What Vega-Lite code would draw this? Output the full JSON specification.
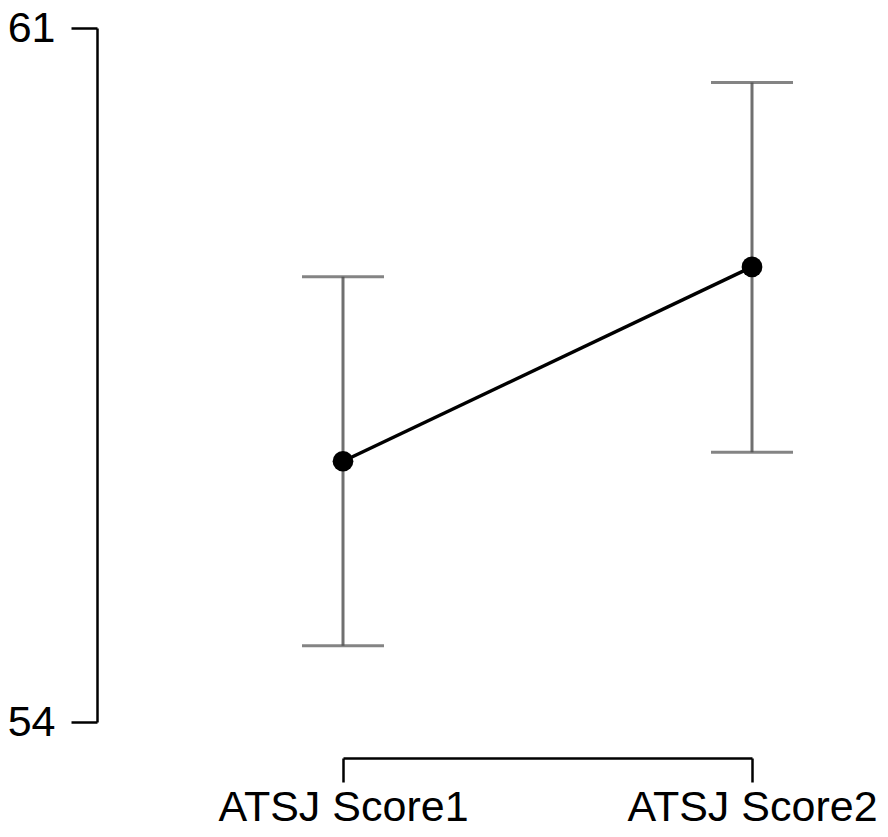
{
  "$schema": "https://vega.github.io/schema/vega-lite/v6.json",
  "width": 409,
  "height": 694,
  "autosize": {"type": "none"},
  "padding": {"left": 343, "top": 28, "right": 136, "bottom": 115},
  "background": "white",
  "config": {
    "view": {"stroke": null},
    "font": "Liberation Sans",
    "axis": {
      "grid": false,
      "domainColor": "black",
      "domainWidth": 2.5,
      "tickColor": "black",
      "tickWidth": 2.5,
      "labelColor": "black",
      "labelFont": "Liberation Sans",
      "labelFontSize": 43,
      "labelLimit": 0,
      "title": null
    }
  },
  "data": {
    "values": [
      {"score": "ATSJ Score1", "mean": 56.63, "lower": 54.77, "upper": 58.49},
      {"score": "ATSJ Score2", "mean": 58.59, "lower": 56.72, "upper": 60.45}
    ]
  },
  "encoding": {
    "x": {
      "field": "score",
      "type": "nominal",
      "scale": {"type": "point", "padding": 0},
      "axis": {"labelAngle": 0, "offset": 36, "tickSize": 24, "labelPadding": 4, "labelLimit": 0}
    }
  },
  "layer": [
    {
      "mark": {"type": "rule", "color": "#707070", "strokeWidth": 3},
      "encoding": {
        "y": {
          "field": "lower",
          "type": "quantitative",
          "scale": {"domain": [54, 61], "nice": false, "zero": false},
          "axis": {"values": [54, 61], "format": "d", "offset": 246, "tickSize": 26, "labelPadding": 16}
        },
        "y2": {"field": "upper"}
      }
    },
    {
      "mark": {"type": "tick", "color": "#505050", "thickness": 3, "size": 82, "orient": "horizontal"},
      "encoding": {"y": {"field": "upper", "type": "quantitative"}}
    },
    {
      "mark": {"type": "tick", "color": "#505050", "thickness": 3, "size": 82, "orient": "horizontal"},
      "encoding": {"y": {"field": "lower", "type": "quantitative"}}
    },
    {
      "mark": {"type": "line", "color": "black", "strokeWidth": 3.5},
      "encoding": {"y": {"field": "mean", "type": "quantitative"}}
    },
    {
      "mark": {"type": "point", "filled": true, "color": "black", "opacity": 1, "size": 430},
      "encoding": {"y": {"field": "mean", "type": "quantitative"}}
    }
  ]
}
